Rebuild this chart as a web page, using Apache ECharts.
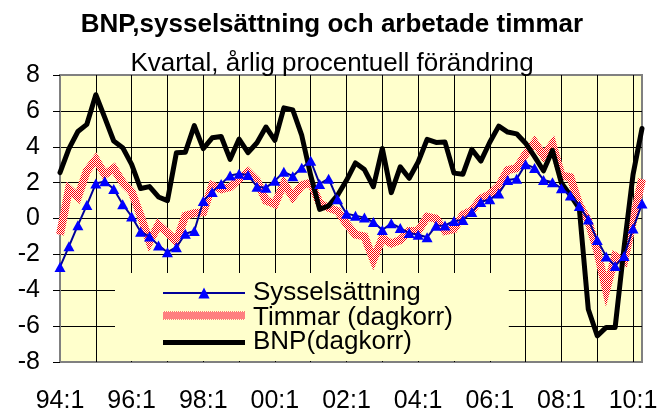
<!DOCTYPE html>
<html>
<head>
<meta charset="utf-8">
<script src="https://cdn.jsdelivr.net/npm/echarts@6/dist/echarts.min.js"></script>
<style>
  html, body { margin: 0; padding: 0; background: #ffffff; }
  #chart { width: 668px; height: 414px; }
</style>
</head>
<body>
<div id="chart"></div>
<script>
// Quarterly categories, 1994 Q1 to 2010 Q2
const quarters = [
  '94:1','94:2','94:3','94:4','95:1','95:2','95:3','95:4',
  '96:1','96:2','96:3','96:4','97:1','97:2','97:3','97:4',
  '98:1','98:2','98:3','98:4','99:1','99:2','99:3','99:4',
  '00:1','00:2','00:3','00:4','01:1','01:2','01:3','01:4',
  '02:1','02:2','02:3','02:4','03:1','03:2','03:3','03:4',
  '04:1','04:2','04:3','04:4','05:1','05:2','05:3','05:4',
  '06:1','06:2','06:3','06:4','07:1','07:2','07:3','07:4',
  '08:1','08:2','08:3','08:4','09:1','09:2','09:3','09:4',
  '10:1','10:2'
];

// Annual percentage change per quarter
const sysselsattning = [
  -2.7, -1.55, -0.37, 0.75, 1.95, 2.07, 1.64, 0.8, 0.11, -0.74,
  -1.0, -1.5, -1.88, -1.6, -0.85, -0.7, 0.98, 1.48, 1.93, 2.4,
  2.5, 2.43, 1.77, 1.72, 2.1, 2.6, 2.36, 2.83, 3.22, 1.93,
  2.22, 1.07, 0.26, 0.16, 0.05, -0.2, -0.64, -0.27, -0.53, -0.81,
  -0.91, -1.05, -0.4, -0.39, -0.14, -0.08, 0.36, 0.92, 1.07, 1.4,
  2.15, 2.21, 3.03, 2.81, 2.15, 2.02, 1.68, 1.28, 0.69, -0.06,
  -1.2, -2.12, -2.65, -2.09, -0.56, 0.83
];

const timmar = [
  -0.9, 1.65, 1.2, 2.65, 3.3, 2.45, 2.8, 2.0, 1.5, 0.15,
  -1.3, -0.35, -0.8, -1.3, 0.15, 0.3, 0.35, 1.85, 1.63, 1.75,
  2.2, 2.6, 2.1, 1.0, 0.8, 1.95, 1.2, 1.85, 2.0, 0.85,
  0.6, 0.42, -0.3, -0.9, -1.0, -2.3, -1.1, -1.4, -1.2, -0.7,
  -0.7, 0.1, 0.0, -0.7, -0.6, 0.2, 0.45, 1.1, 1.35, 1.8,
  2.7, 2.8, 3.6, 4.25, 3.5, 4.15, 2.4, 2.3, 0.75, -0.15,
  -1.8, -4.0, -2.1, -2.4, -0.1, 2.2
];

const bnp = [
  2.56, 3.9, 4.85, 5.25, 6.9, 5.62, 4.32, 3.95, 3.02, 1.67,
  1.78, 1.2, 1.0, 3.67, 3.7, 5.18, 3.9, 4.5, 4.57, 3.3,
  4.43, 3.67, 4.22, 5.1, 4.36, 6.17, 6.05, 4.63, 2.4, 0.51,
  0.7, 1.3, 2.13, 3.1, 2.73, 1.77, 3.9, 1.44, 2.88, 2.24,
  3.15, 4.41, 4.24, 4.26, 2.53, 2.47, 3.85, 3.2, 4.25, 5.15,
  4.82, 4.72, 4.2, 3.45, 2.66, 3.8, 1.98, 1.3, 0.55, -5.06,
  -6.54, -6.07, -6.07, -1.6, 2.45, 5.02
];

const FONT = "'Liberation Sans', Arial, sans-serif";

// Red/white checker used for the hours series
function checkerPattern() {
  const c = document.createElement('canvas');
  c.width = 2; c.height = 2;
  const g = c.getContext('2d');
  g.fillStyle = '#ffffff';
  g.fillRect(0, 0, 2, 2);
  g.fillStyle = '#ff0000';
  g.fillRect(0, 0, 1, 1);
  g.fillRect(1, 1, 1, 1);
  return { image: c, repeat: 'repeat' };
}
const checker = checkerPattern();

// Legend swatch images (82x14): a horizontal band of the given thickness
function swatch(bandTop, bandHeight, painter) {
  const c = document.createElement('canvas');
  c.width = 82; c.height = 14;
  const g = c.getContext('2d');
  painter(g, bandTop, bandHeight);
  return 'image://' + c.toDataURL('image/png');
}
const checkerSwatch = swatch(1, 8, (g, top, h) => {
  for (let y = top; y < top + h; y++) {
    for (let x = 0; x < 82; x++) {
      g.fillStyle = (x + y) % 2 === 0 ? '#ff0000' : '#ffffff';
      g.fillRect(x, y, 1, 1);
    }
  }
});
const blackSwatch = swatch(5, 5, (g, top, h) => {
  g.fillStyle = '#000000';
  g.fillRect(0, top, 82, h);
});

// Plot frame is grey, inner grid lines black
const ySplitColors = ['#808080', '#000', '#000', '#000', '#000', '#000', '#000', '#000', '#808080'];
const xSplitColors = ['#808080'].concat(new Array(16).fill('#000'));

const chart = echarts.init(document.getElementById('chart'), null, { renderer: 'canvas' });

chart.setOption({
  backgroundColor: '#ffffff',
  animation: false,
  title: [
    {
      text: 'BNP,sysselsättning och arbetade timmar',
      left: 332, top: 11, textAlign: 'center', padding: 0,
      textStyle: { fontFamily: FONT, fontSize: 26, fontWeight: 'bold', color: '#000', lineHeight: 28 }
    },
    {
      text: 'Kvartal, årlig procentuell förändring',
      left: 332, top: 50, textAlign: 'center', padding: 0,
      textStyle: { fontFamily: FONT, fontSize: 26, fontWeight: 'normal', color: '#000', lineHeight: 28 }
    }
  ],
  legend: {
    data: [
      { name: 'Sysselsättning' },
      { name: 'Timmar (dagkorr)', icon: checkerSwatch },
      { name: 'BNP(dagkorr)', icon: blackSwatch }
    ],
    orient: 'vertical',
    left: 115, top: 273,
    padding: [7, 56, 6, 47],
    backgroundColor: '#FFFFCC',
    itemWidth: 82, itemHeight: 14, itemGap: -1.5,
    selectedMode: false,
    textStyle: { fontFamily: FONT, fontSize: 26, lineHeight: 24.5, color: '#000', padding: [0, 0, 0, 3] }
  },
  grid: {
    left: 60, top: 75, width: 582, height: 288,
    show: true, backgroundColor: '#FFFFCC',
    borderColor: '#808080', borderWidth: 2
  },
  xAxis: {
    type: 'category',
    data: quarters,
    boundaryGap: false,
    axisLine: { show: false },
    axisTick: { show: false },
    axisLabel: {
      interval: (i) => i % 8 === 0,
      fontFamily: FONT, fontSize: 25, color: '#000', margin: 27
    },
    splitLine: {
      show: true,
      interval: (i) => i % 4 === 0,
      lineStyle: { color: xSplitColors, width: 1 }
    }
  },
  yAxis: {
    type: 'value',
    min: -8, max: 8, interval: 2,
    axisLine: { show: false },
    axisTick: { show: true, length: 7, lineStyle: { color: '#000', width: 1 } },
    axisLabel: { fontFamily: FONT, fontSize: 25, color: '#000', margin: 20 },
    splitLine: { show: true, lineStyle: { color: ySplitColors, width: 1 } }
  },
  series: [
    {
      name: 'Timmar (dagkorr)',
      type: 'line',
      data: timmar,
      symbol: 'none',
      lineStyle: { color: checker, width: 8, join: 'miter' },
      itemStyle: { color: checker }
    },
    {
      name: 'BNP(dagkorr)',
      type: 'line',
      data: bnp,
      symbol: 'none',
      lineStyle: { color: '#000000', width: 5, join: 'round', cap: 'round' },
      itemStyle: { color: '#000000' }
    },
    {
      name: 'Sysselsättning',
      type: 'line',
      data: sysselsattning,
      symbol: 'triangle',
      symbolSize: [11, 10],
      showAllSymbol: true,
      lineStyle: { color: '#000099', width: 2 },
      itemStyle: { color: '#0000FF' }
    }
  ]
});
</script>
</body>
</html>
